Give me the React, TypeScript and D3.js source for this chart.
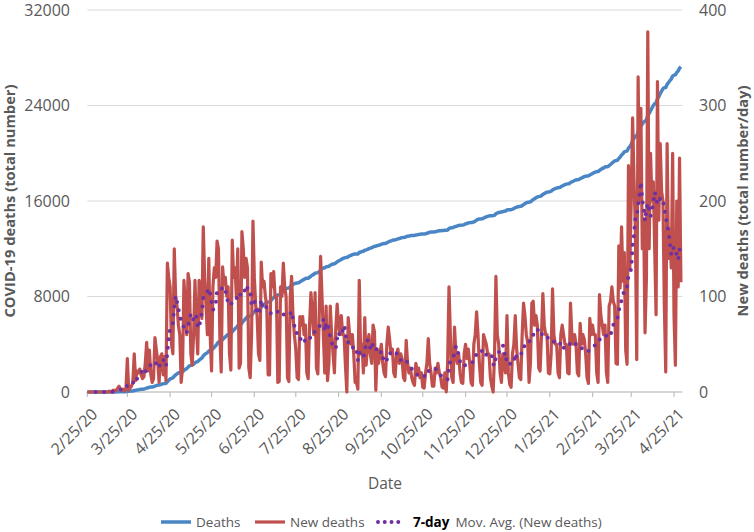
import React from 'react';
import * as d3 from 'd3';

// daily new deaths, one row per week (rows start on Tuesdays), from 2/25/20
const startDate = '2020-02-25';
const newDeaths = [
  0, 0, 0, 0, 0, 0, 0,
  0, 0, 0, 0, 0, 0, 0,
  0, 0, 1, 0, 1, 2, 1,
  2, 4, 6, 3, 2, 3, 1,
  3, 35, 2, 4, 6, 10, 40,
  12, 22, 20, 24, 18, 14, 16,
  30, 52, 22, 44, 18, 10, 14,
  57, 44, 33, 10, 37, 40, 18,
  37, 12, 135, 120, 110, 50, 40,
  150, 100, 90, 70, 60, 10, 25,
  117, 90, 60, 124, 115, 40, 28,
  60, 117, 70, 40, 117, 100, 77,
  173, 120, 90, 60, 140, 60, 22,
  110, 130, 120, 158, 150, 60, 21,
  131, 113, 120, 100, 110, 40, 23,
  159, 120, 130, 100, 150, 25, 30,
  168, 150, 120, 140, 130, 25, 15,
  60, 179, 120, 90, 80, 40, 33,
  136, 110, 116, 100, 90, 18, 18,
  124, 110, 126, 100, 100, 10, 11,
  110, 100, 135, 110, 100, 15, 11,
  100, 121, 80, 60, 45, 15, 13,
  79, 70, 79, 60, 70, 20, 14,
  70, 104, 80, 60, 104, 25, 19,
  80, 142, 100, 60, 20, 90, 12,
  30, 90, 60, 40, 20, 67, 92,
  70, 60, 80, 60, 60, 27, 0,
  78, 60, 50, 60, 40, 10, 10,
  3, 117, 40, 50, 20, 78, 28,
  50, 60, 40, 30, 70, 63, 2,
  45, 30, 40, 50, 30, 20, 16,
  50, 68, 55, 40, 45, 20, 16,
  40, 45, 30, 40, 35, 15, 12,
  54, 30, 20, 25, 15, 10, 7,
  30, 20, 25, 15, 20, 5, 4,
  20, 30, 56, 30, 20, 6, 6,
  25, 20, 30, 20, 15, 5, 4,
  20, 0, 30, 110, 60, 15, 10,
  68, 40, 30, 40, 20, 10, 9,
  40, 50, 35, 45, 30, 10, 7,
  50, 60, 84, 60, 30, 10, 7,
  60, 55, 50, 40, 40, 15, 6,
  0, 40, 121, 60, 50, 20, 10,
  40, 30, 20, 80, 20, 8, 5,
  40, 50, 80, 45, 30, 15, 13,
  60, 93, 80, 60, 52, 10, 30,
  93, 95, 70, 80, 70, 25, 22,
  60, 103, 70, 60, 60, 20, 19,
  40, 108, 60, 50, 50, 20, 15,
  60, 70, 60, 50, 50, 20, 19,
  93, 60, 50, 60, 50, 20, 17,
  72, 50, 60, 55, 40, 15, 9,
  77, 60, 70, 60, 60, 20, 10,
  102, 80, 70, 60, 70, 21, 10,
  90, 95, 110, 95, 90, 30, 29,
  153, 109, 173, 116, 146, 44, 29,
  237, 130, 200, 287, 223, 170, 34,
  330, 200, 297, 150, 180, 62, 118,
  377, 150, 250, 200, 220, 150, 81,
  325, 180, 260, 210, 200, 90, 21,
  260, 140, 170, 130, 250, 80, 28,
  200, 110, 245, 115,
];

const tickLabels = [
  '2/25/20', '3/25/20', '4/25/20', '5/25/20', '6/25/20', '7/25/20', '8/25/20',
  '9/25/20', '10/25/20', '11/25/20', '12/25/20', '1/25/21', '2/25/21', '3/25/21', '4/25/21',
];
const leftTicks = [0, 8000, 16000, 24000, 32000];
const rightTicks = [0, 100, 200, 300, 400];

const BLUE = '#4a86c6';
const RED = '#c0504d';
const PURPLE = '#7030a0';
const TEXT = '#595959';
const FONT = '"Open Sans", "Noto Sans", sans-serif';

export default function App() {
  const day0 = d3.utcParse('%Y-%m-%d')(startDate) as Date;
  const parseTick = d3.utcParse('%m/%d/%y');
  const dates = newDeaths.map((_, i) => d3.utcDay.offset(day0, i));
  const cumulative = Array.from(d3.cumsum(newDeaths));
  // Excel style trailing 7 point moving average
  const movAvg = newDeaths.map((_, i) =>
    i < 6 ? null : (d3.mean(newDeaths.slice(i - 6, i + 1)) as number)
  );

  const x = d3
    .scaleUtc()
    .domain([day0, d3.utcDay.offset(day0, 431)])
    .range([87.3, 682.3]);
  const yL = d3.scaleLinear().domain([0, 32000]).range([392, 10]);
  const yR = d3.scaleLinear().domain([0, 400]).range([392, 10]);

  const idx = newDeaths.map((_, i) => i);
  const cumLine = d3
    .line<number>()
    .x((i) => x(dates[i]))
    .y((i) => yL(cumulative[i]));
  const newLine = d3
    .line<number>()
    .x((i) => x(dates[i]))
    .y((i) => yR(newDeaths[i]));
  const maLine = d3
    .line<number>()
    .defined((i) => movAvg[i] != null)
    .x((i) => x(dates[i]))
    .y((i) => yR(movAvg[i] as number));

  const [xs, xe] = x.range();

  return (
    <svg
      width={754}
      height={532}
      style={{ position: 'absolute', left: 0, top: 0, background: '#fff' }}
      fontFamily={FONT}
    >
      {/* gridlines */}
      {leftTicks.map((t) => (
        <line key={t} x1={xs} x2={xe} y1={yL(t)} y2={yL(t)} stroke="#d9d9d9" strokeWidth={1.2} />
      ))}
      {/* x axis */}
      <line x1={xs} x2={xe} y1={392} y2={392} stroke="#bfbfbf" strokeWidth={1.2} />
      {tickLabels.map((lab) => {
        const tx = x(parseTick(lab) as Date);
        return (
          <g key={lab}>
            <line x1={tx} x2={tx} y1={392} y2={397} stroke="#bfbfbf" strokeWidth={1.2} />
            <text
              transform={`translate(${tx + 3},${407}) rotate(-45)`}
              textAnchor="end"
              dy="0.72em"
              fontSize={16}
              fill={TEXT}
            >
              {lab}
            </text>
          </g>
        );
      })}
      {/* left axis labels */}
      {leftTicks.map((t) => (
        <text key={t} x={70} y={yL(t)} dy="0.36em" textAnchor="end" fontSize={16} fill={TEXT}>
          {t}
        </text>
      ))}
      {/* right axis labels */}
      {rightTicks.map((t) => (
        <text key={t} x={699} y={yR(t)} dy="0.36em" textAnchor="start" fontSize={16} fill={TEXT}>
          {t}
        </text>
      ))}
      {/* axis titles */}
      <text
        transform="translate(15,201) rotate(-90)"
        textAnchor="middle"
        fontSize={14.7}
        fontWeight="bold"
        fill={TEXT}
      >
        COVID-19 deaths (total number)
      </text>
      <text
        transform="translate(748,201) rotate(-90)"
        textAnchor="middle"
        fontSize={14.7}
        fontWeight="bold"
        fill={TEXT}
      >
        New deaths (total number/day)
      </text>
      <text x={385} y={489} textAnchor="middle" fontSize={15.5} fill={TEXT}>
        Date
      </text>

      {/* series */}
      <path d={cumLine(idx) || ''} fill="none" stroke={BLUE} strokeWidth={3.5} strokeLinejoin="round" />
      <path d={newLine(idx) || ''} fill="none" stroke={RED} strokeWidth={3.2} strokeLinejoin="round" />
      <path
        d={maLine(idx) || ''}
        fill="none"
        stroke={PURPLE}
        strokeWidth={4}
        strokeLinecap="round"
        strokeDasharray="0 8.5"
      />

      {/* legend */}
      <g fontSize={13.5} fill={TEXT}>
        <line x1={161} x2={191} y1={522} y2={522} stroke={BLUE} strokeWidth={3.5} />
        <text x={196} y={522} dy="0.35em">Deaths</text>
        <line x1={255} x2={285} y1={522} y2={522} stroke={RED} strokeWidth={3.2} />
        <text x={290} y={522} dy="0.35em">New deaths</text>
        <line
          x1={378}
          x2={405}
          y1={522}
          y2={522}
          stroke={PURPLE}
          strokeWidth={4}
          strokeLinecap="round"
          strokeDasharray="0 6.75"
        />
        <text x={413} y={522} dy="0.35em">
          <tspan fontWeight="bold" fill="#000">7-day</tspan>
          <tspan dx={6}>Mov. Avg. (New deaths)</tspan>
        </text>
      </g>
    </svg>
  );
}
